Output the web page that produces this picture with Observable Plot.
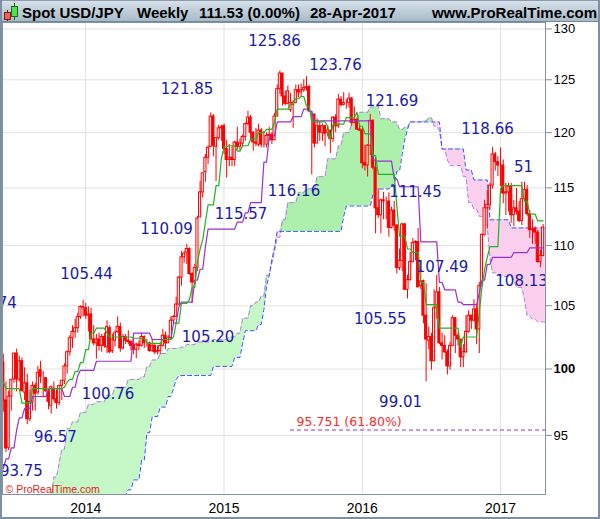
<!DOCTYPE html>
<html><head><meta charset="utf-8"><title>Spot USD/JPY Weekly</title>
<script src="https://cdn.jsdelivr.net/npm/d3@7"></script>
<script src="https://cdn.jsdelivr.net/npm/@observablehq/plot@0.6"></script>
<style>
 html,body{margin:0;padding:0;background:#fff;}
 #wrap{position:relative;width:600px;height:519px;overflow:hidden;background:#fff;}
 #hdr{position:absolute;left:0;top:0;width:600px;height:22px;box-sizing:border-box;background:linear-gradient(#d6e1ea,#a8bac9);border-top:1px solid #8a9cad;border-bottom:1px solid #75889a;font:bold 15px "Liberation Sans",Arial,sans-serif;color:#000;}
 #hdr span{position:absolute;top:3px;white-space:pre;line-height:17px}
 #chart{position:absolute;left:0;top:22px;width:600px;height:497px;}
 #border{position:absolute;left:0;top:0;width:600px;height:519px;box-sizing:border-box;border-left:2px solid #7d8fa0;border-right:2px solid #7d8fa0;border-bottom:2px solid #7d8fa0;pointer-events:none;}
</style></head>
<body><div id="wrap">
<div id="hdr">
 <svg width="20" height="21" style="position:absolute;left:1px;top:0">
  <line x1="6.5" y1="9" x2="6.5" y2="20" stroke="#7a1010"/><rect x="3.5" y="11.5" width="6" height="7" fill="#f06060" stroke="#8a1a1a"/>
  <line x1="13.5" y1="2" x2="13.5" y2="19" stroke="#106010"/><rect x="10.5" y="5.5" width="6" height="10" fill="#50e050" stroke="#1a6a1a"/>
 </svg>
 <span style="left:22px">Spot USD/JPY</span>
 <span style="left:137px">Weekly</span>
 <span style="left:199px">111.53 (0.00%)</span>
 <span style="left:310px">28-Apr-2017</span>
 <span style="right:3px">www.ProRealTime.com</span>
</div>
<div id="chart"></div>
<div id="border"></div>
</div>
<script>
// ---- weekly bars, week 0 = week of 20-May-2013 ----
const weekOpen = [
 101.95,101.0,100.5,97.6,94.1,97.9,99.2,101.2,99.2,100.6,98.2,98.9,96.2,97.5,98.7,98.2,99.9,99.3,99.3,98.2,97.2,98.5,97.7,97.4,98.7,99.1,100.2,101.3,102.4,102.9,103.2,104.1,104.9,
 104.8,104.2,104.3,102.3,102.0,102.3,101.8,102.5,101.7,103.2,101.4,102.2,102.9,103.3,101.6,102.5,102.2,102.1,101.8,101.5,101.9,101.8,102.5,102.0,102.0,101.4,101.8,101.3,101.4,101.8,102.6,102.0,102.4,103.8,104.1,105.1,107.3,109.0,109.4,109.7,107.6,106.9,108.1,112.4,114.6,116.4,117.7,118.7,121.5,118.7,119.5,120.4,
 120.6,118.5,117.5,117.7,117.5,119.1,118.7,119.0,119.6,120.8,121.4,120.0,119.1,118.9,120.2,118.9,118.9,119.7,119.8,119.3,121.5,124.1,125.6,123.4,122.7,122.1,122.6,122.8,124.0,123.8,124.0,124.2,124.3,121.7,121.7,119.0,120.6,120.0,120.6,120.0,120.2,119.4,121.4,120.6,123.1,122.6,122.8,122.8,123.2,120.9,121.2,120.3,
 120.2,117.2,117.0,118.8,121.1,116.8,113.2,112.6,113.9,113.8,113.8,111.5,113.0,111.7,108.1,108.7,111.8,106.3,107.1,108.6,110.2,110.3,106.6,107.0,104.2,102.2,102.5,100.6,104.8,106.1,102.0,101.8,101.3,100.2,101.8,104.0,102.6,102.3,100.9,101.3,102.9,104.2,103.8,104.7,103.1,106.6,110.9,113.2,113.5,115.2,118.0,117.3,
 117.0,117.0,114.5,114.6,115.1,112.6,113.2,112.9,112.1,114.0,114.8,112.7,111.3,111.4,111.1,108.6,109.1];
const weekHigh = [
 103.74,102.53,101.14,99.0,98.3,99.2,101.2,101.54,101.0,100.85,100.1,99.6,98.4,99.0,98.9,100.2,100.6,99.8,99.3,98.5,98.7,99.0,98.4,98.7,99.1,100.4,101.4,102.6,103.4,103.9,104.4,105.0,105.44,
 105.2,104.9,104.8,103.4,102.7,102.8,102.7,102.8,103.8,103.4,102.7,103.0,104.1,103.6,102.7,102.7,103.0,102.2,102.4,102.0,102.2,102.8,102.6,102.3,102.1,102.3,101.9,101.8,101.9,103.1,102.9,102.6,104.1,104.2,105.7,107.4,109.5,109.5,110.09,109.8,107.7,108.4,112.5,115.6,116.3,118.0,118.8,121.85,121.7,119.5,120.7,120.7,
 120.8,119.3,118.9,118.7,119.2,120.5,119.4,119.8,120.9,122.0,121.6,120.1,120.4,120.8,120.4,120.1,120.0,120.5,120.0,121.8,124.5,125.86,125.6,123.9,124.4,123.7,123.0,124.5,124.5,124.6,125.0,125.3,124.5,122.0,121.7,121.3,121.0,120.8,120.7,120.6,120.2,121.5,121.7,123.6,123.4,123.76,123.1,123.7,123.3,122.4,121.4,120.7,
 120.4,118.8,118.9,121.69,121.2,117.7,114.9,114.0,114.6,114.2,114.55,113.3,113.8,111.8,109.7,111.9,111.9,107.5,109.4,110.6,110.4,111.45,107.9,107.1,106.8,103.3,102.8,106.3,107.49,106.5,102.8,102.6,101.5,102.1,104.2,104.0,102.8,102.3,101.9,104.2,104.6,104.2,105.5,105.0,106.9,111.0,113.9,114.8,115.4,118.66,118.2,117.8,
 118.6,117.5,115.4,115.4,115.4,113.9,114.95,113.8,115.51,115.5,115.2,113.0,112.2,111.6,111.3,109.6,111.8];
const weekLow = [
 100.66,100.06,96.72,93.75,93.9,96.8,98.9,98.25,99.0,98.3,97.6,95.8,96.0,96.8,96.8,98.0,98.9,97.8,98.2,96.9,96.57,97.5,96.95,97.2,97.6,98.8,99.6,101.0,101.6,102.4,102.8,103.9,104.1,
 103.9,102.9,102.3,101.8,100.76,101.4,101.3,101.6,101.2,101.2,101.2,101.7,102.8,101.3,101.5,101.9,101.9,101.4,101.1,100.8,101.4,101.7,101.6,101.7,101.3,101.3,101.1,101.1,101.1,101.7,101.5,102.0,102.3,103.5,104.1,105.0,106.6,108.5,108.4,107.5,105.2,106.7,107.8,112.4,114.1,115.5,117.1,118.6,117.8,115.57,119.3,119.2,
 118.0,115.86,116.9,116.9,116.9,118.4,118.3,118.6,119.2,120.6,119.3,118.3,118.7,118.7,118.6,118.6,118.6,119.2,118.9,119.3,121.5,123.6,122.5,122.5,122.6,121.9,120.4,122.7,123.3,123.3,123.8,123.9,122.0,116.15,118.6,119.0,119.2,119.2,118.7,119.6,118.1,119.1,120.0,120.4,122.4,122.5,122.2,122.3,120.6,120.9,120.2,120.1,
 116.7,116.5,115.97,117.9,116.6,110.99,112.3,111.0,112.2,112.2,110.7,111.4,111.2,107.6,107.9,107.8,106.3,105.55,107.0,108.6,108.7,106.5,106.3,103.55,99.01,101.5,99.9,100.6,103.9,101.9,100.7,101.2,99.55,99.9,101.8,101.2,101.8,100.1,100.1,101.2,102.8,103.1,103.7,101.9,101.2,106.6,110.8,111.4,113.0,114.9,116.5,116.0,
 115.1,113.6,112.57,112.9,111.9,111.6,112.6,111.95,111.7,113.8,112.5,110.6,110.1,110.1,108.5,108.13,109.1];
const weekClose = [
 101.03,100.51,97.55,94.05,97.88,99.15,101.2,99.2,100.6,98.3,98.9,96.2,97.5,98.7,98.1,99.7,99.4,99.3,98.3,97.5,98.6,97.7,97.4,98.7,99.1,100.2,101.3,102.4,102.9,103.2,104.1,104.9,104.85,
 104.2,104.3,102.3,102.0,102.3,101.8,102.5,101.8,103.3,101.3,102.3,102.8,103.3,101.6,102.5,102.2,102.1,101.8,101.5,101.9,101.8,102.5,102.0,102.0,101.4,101.8,101.3,101.4,101.8,102.6,102.0,102.4,103.8,104.1,105.1,107.3,109.0,109.3,109.7,107.6,106.9,108.1,112.3,114.6,116.3,117.7,118.6,121.5,118.8,119.5,120.4,120.5,
 118.5,117.5,117.7,117.5,119.1,118.7,119.0,119.6,120.8,121.4,120.0,119.1,119.0,120.2,118.9,118.9,119.7,119.8,119.3,121.5,124.1,125.6,123.4,122.7,123.9,122.8,122.8,124.0,123.8,124.0,124.2,124.3,122.0,121.7,119.0,120.6,120.0,120.6,119.9,120.2,119.4,121.4,120.6,123.1,122.6,122.8,122.8,123.2,120.9,121.2,120.3,120.2,
 117.2,117.0,118.8,121.1,116.8,113.2,112.6,113.9,113.8,113.8,111.5,113.0,111.7,108.1,108.7,111.8,106.3,107.1,108.6,110.2,110.3,106.5,107.0,104.2,102.3,102.5,100.6,104.8,106.1,102.0,101.8,101.3,100.2,101.8,104.0,102.6,102.3,100.9,101.3,102.9,104.2,103.8,104.7,103.1,106.6,110.9,113.2,113.5,115.2,118.0,117.3,117.0,
 117.0,114.5,114.6,115.1,112.6,113.2,112.9,112.1,114.0,114.8,112.7,111.3,111.4,111.1,108.6,109.1,111.53];

// ---- Ichimoku lines: [week index, value] where the value changes ----
const tenkanBreaks = [[2,99.0],[3,98.5],[9,97.4],[13,98.5],[25,98.6],[26,99.0],[27,99.2],[29,99.8],[31,100.5],[33,101.5],[35,102.8],[37,103.2],[41,102.8],[42,102.5],[51,102.4],[56,102.0],[62,102.3],[66,102.5],[67,103.6],[69,105.2],[72,105.5],[73,106.5],[75,108.6],[76,109.7],[77,110.5],[78,112.0],[79,113.5],[82,115.2],[84,117.6],[85,118.7],[87,118.8],[90,118.3],[92,118.8],[95,119.4],[98,120.0],[101,120.3],[104,121.0],[105,122.2],[110,122.7],[112,123.2],[114,123.4],[116,122.5],[118,121.0],[124,120.6],[125,119.4],[126,120.8],[131,121.4],[135,121.9],[136,120.6],[138,119.9],[141,117.9],[143,116.2],[150,113.4],[151,110.8],[154,109.7],[156,109.4],[159,106.9],[161,105.1],[166,103.2],[174,101.7],[175,102.5],[181,104.5],[182,106.5],[183,108.0],[184,109.0],[185,109.9],[189,114.9],[190,115.2],[198,113.8],[200,112.7],[203,112.1]];
const kijunBreaks = [[2,92.6],[3,93.3],[5,94.1],[7,95.4],[8,96.3],[10,97.0],[13,97.9],[19,98.5],[25,97.9],[28,98.6],[30,99.5],[31,99.9],[37,100.6],[51,102.8],[58,102.3],[66,103.6],[68,104.9],[69,105.3],[74,107.1],[76,108.0],[78,109.9],[79,111.4],[90,112.0],[93,112.8],[95,113.7],[100,117.3],[102,119.7],[105,121.0],[111,121.5],[115,122.2],[117,122.0],[119,121.1],[141,117.6],[142,117.4],[149,115.8],[151,115.1],[159,110.3],[166,106.9],[168,106.3],[173,105.3],[175,105.1],[181,106.0],[182,107.1],[184,108.4],[186,109.0],[194,109.4],[200,109.8]];
const spanABreaks = [[16,89.5],[17,90.3],[21,92.0],[23,93.0],[24,94.0],[26,95.5],[28,96.0],[31,96.7],[34,97.3],[37,97.5],[41,98.0],[44,98.6],[49,99.2],[54,99.4],[56,100.2],[58,100.7],[61,101.2],[64,101.6],[69,101.7],[71,101.9],[75,102.1],[81,102.3],[87,102.5],[90,102.8],[92,104.0],[95,105.0],[97,105.3],[99,105.8],[101,107.5],[103,108.5],[104,109.5],[105,110.7],[107,112.2],[109,113.7],[113,114.6],[116,114.9],[120,116.0],[124,117.6],[128,118.8],[130,120.0],[133,120.8],[134,121.1],[136,121.9],[140,122.4],[143,122.5],[144,121.3],[148,121.0],[151,120.3],[153,120.5],[155,121.0],[160,121.1],[162,121.4],[164,120.6],[166,120.2],[167,118.5],[169,117.5],[170,117.0],[175,116.0],[177,113.7],[179,113.1],[181,112.5],[184,111.6],[185,109.0],[186,107.7],[189,107.4],[194,107.1],[195,106.5],[198,105.5],[199,104.2],[201,103.9],[203,103.7]];
const spanBBreaks = [[45,89.5],[47,90.7],[49,91.1],[51,91.8],[54,93.2],[56,95.2],[58,96.4],[61,97.1],[64,97.9],[66,98.5],[67,99.2],[68,99.5],[81,100.2],[89,100.9],[92,102.0],[93,103.0],[98,103.5],[100,104.7],[101,106.6],[102,107.5],[103,108.8],[104,109.8],[105,111.2],[130,112.5],[131,113.4],[141,114.4],[142,114.9],[148,115.3],[150,116.5],[152,118.0],[153,119.4],[154,120.3],[155,121.0],[167,118.5],[176,116.6],[179,115.7],[185,112.2],[193,111.5]];

// ---- axis ticks ----
const yearTickIdx = [33, 85, 137, 189];
const yearLabels = ["2014", "2015", "2016", "2017"];
const yTicks = [95, 100, 105, 110, 115, 120, 125, 130];

// ---- annotations ----
const labelText  = ["103.74","105.44","96.57","93.75","100.76","110.09","105.20","115.57","121.85","116.16","125.86","123.76","121.69","111.45","107.49","105.55","99.01","118.66","51","108.13"];
const labelIdx   = [-2.82,33.3,21.6,8.8,41.4,63.4,79.0,91.4,71.1,111.3,104.0,126.9,148.2,157.0,167.0,143.8,151.4,184.1,197.6,196.9];
const labelPrice = [105.2,107.55,94.87,92.4,98.08,111.4,102.5,112.7,124.1,114.7,128.8,126.45,122.98,114.6,108.14,103.95,97.5,120.3,116.85,107.05];
const fiboText = "95.751 (61.80%)", fiboLinePrice = 95.4, fiboStartIdx = 110, fiboTextIdx = 112.3, fiboTextPrice = 95.98;

// ---- build ----
const X_DOMAIN = [1.69, 205.9];
const Y_DOMAIN = [90.77, 130.65];
const RED = "#ff0000";

const candles = weekOpen.map((o, i) => ({i, open: o, high: weekHigh[i], low: weekLow[i], close: weekClose[i], up: weekClose[i] >= o}));

function expand(breaks, last) {
  const out = []; let k = 0;
  for (let i = breaks[0][0]; i <= last; i++) {
    while (k + 1 < breaks.length && breaks[k + 1][0] <= i) k++;
    out.push({i, v: breaks[k][1]});
  }
  return out;
}
const tenkan = expand(tenkanBreaks, 205);
const kijun = expand(kijunBreaks, 205);
const spanA = expand(spanABreaks, 206);
const spanB = expand(spanBBreaks, 206);
const bMap = new Map(spanB.map(d => [d.i, d.v]));
const cloud = spanA.map(d => ({i: d.i, a: d.v, b: bMap.has(d.i) ? bMap.get(d.i) : null}));
const labels = labelText.map((t, k) => ({t, i: labelIdx[k], p: labelPrice[k]}));
const greenLo = d => d.b ?? Y_DOMAIN[0];
const greenHi = d => Math.max(d.a, d.b ?? Y_DOMAIN[0]);

const chart = Plot.plot({
  width: 600, height: 497,
  marginLeft: 2, marginRight: 55, marginTop: 0, marginBottom: 25,
  style: {fontFamily: '"Liberation Sans", Arial, sans-serif', fontSize: "13px", background: "transparent", color: "#000"},
  x: {type: "linear", domain: X_DOMAIN, ticks: yearTickIdx, tickFormat: d => yearLabels[yearTickIdx.indexOf(d)], tickSize: 0, tickPadding: 9, label: null},
  y: {type: "log", domain: Y_DOMAIN, axis: "right", ticks: yTicks, tickFormat: d => String(d), tickSize: 6, tickPadding: 2, label: null},
  marks: [
    Plot.ruleY(yTicks, {stroke: "#e2e2e2"}),
    Plot.ruleX(yearTickIdx, {stroke: "#e2e2e2"}),
    Plot.areaY(cloud.filter(d => d.i <= 100), {x: "i", y1: greenLo, y2: greenHi, fill: "#c6f7c6", clip: true}),
    Plot.areaY(cloud.filter(d => d.i >= 100), {x: "i", y1: greenLo, y2: greenHi, fill: "#acf0ac", clip: true}),
    Plot.areaY(cloud, {x: "i", y1: "a", y2: d => Math.max(d.a, d.b ?? 0), fill: "#fbd0ef", clip: true}),
    Plot.line(spanA, {x: "i", y: "v", stroke: "#b57ce6", strokeWidth: 1, strokeDasharray: "4,3", clip: true}),
    Plot.line(spanB, {x: "i", y: "v", stroke: "#3355ff", strokeWidth: 1, strokeDasharray: "4,3", clip: true}),
    Plot.ruleX(candles, {x: "i", y1: "low", y2: "high", stroke: RED, strokeWidth: 1, clip: true}),
    Plot.rect(candles.filter(d => d.up), {x1: d => d.i - 0.4, x2: d => d.i + 0.4, y1: "open", y2: "close", fill: "#ffffff", stroke: RED, strokeWidth: 1, clip: true}),
    Plot.rect(candles.filter(d => !d.up), {x1: d => d.i - 0.4, x2: d => d.i + 0.4, y1: "open", y2: "close", fill: RED, stroke: RED, strokeWidth: 1, clip: true}),
    Plot.line(kijun, {x: "i", y: "v", stroke: "#9b30d0", strokeWidth: 1.2, clip: true}),
    Plot.line(tenkan, {x: "i", y: "v", stroke: "#1fb51f", strokeWidth: 1.2, clip: true}),
    Plot.ruleY([fiboLinePrice], {x1: () => fiboStartIdx, x2: () => X_DOMAIN[1], stroke: "#9933cc", strokeDasharray: "4,3", clip: true}),
    Plot.text([fiboText], {x: () => fiboTextIdx, y: () => fiboTextPrice, text: d => d, fill: "#ff2a2a", fontSize: 12.5, fontFamily: "DejaVu Sans", textAnchor: "start", lineAnchor: "middle"}),
    Plot.text(labels, {x: "i", y: "p", text: "t", fill: "#1a1aa6", fontSize: 15, fontFamily: "DejaVu Sans", textAnchor: "middle", lineAnchor: "middle", clip: true}),
    Plot.text(["\u00a9 ProRealTime.com"], {frameAnchor: "bottom-left", text: d => d, dx: 3, dy: -2, fill: "#e8201c", fontSize: 10.5, fontFamily: "Liberation Sans", textAnchor: "start", lineAnchor: "bottom"}),
    Plot.frame({stroke: "#8193a4"})
  ]
});
document.getElementById("chart").appendChild(chart);

// axis styling
chart.querySelectorAll('[aria-label^="y-axis"] text').forEach(t => {
  t.setAttribute("font-size", "13"); t.style.fontSize = "13px";
  if (t.textContent.trim() === "100") t.style.fontWeight = "bold";
});
chart.querySelectorAll('[aria-label^="y-axis"] line, [aria-label^="y-axis"] path').forEach(l => l.setAttribute("stroke", "#8193a4"));
chart.querySelectorAll('[aria-label^="x-axis"] text').forEach(t => { t.style.fontSize = "14px"; });
</script>
</body></html>
